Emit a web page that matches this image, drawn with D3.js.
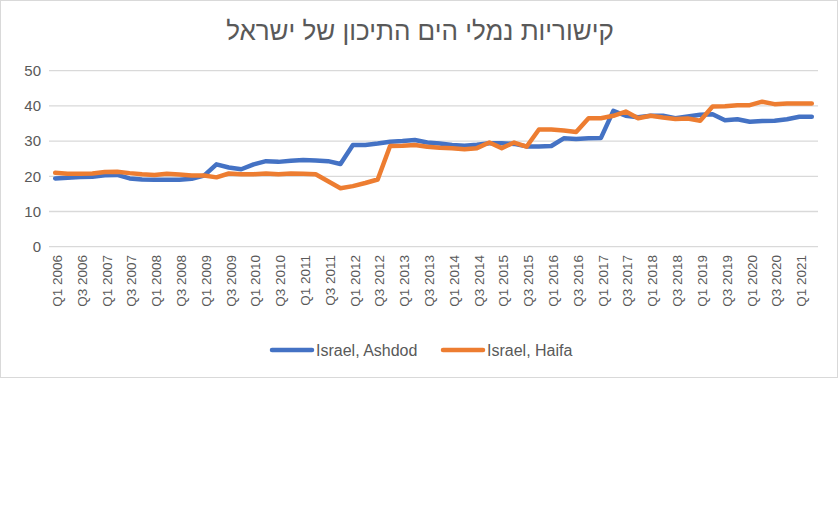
<!DOCTYPE html>
<html>
<head>
<meta charset="utf-8">
<script src="https://cdn.jsdelivr.net/npm/d3@7"></script>
<style>
  body { margin: 0; background: #fff; }
  svg { display: block; font-family: "Liberation Sans", Arial, sans-serif; }
</style>
</head>
<body>
<div id="chart"></div>
<script>
const chartTitle = "קישוריות נמלי הים התיכון של ישראל";
const years = d3.range(2006, 2022);
const quarters = years.flatMap((y) => ["Q1", "Q2", "Q3", "Q4"].map((q) => `${q} ${y}`)).slice(0, 62);
const yTicks = [0, 10, 20, 30, 40, 50];

const ashdod = [
  19.4, 19.6, 19.8, 19.9, 20.3, 20.4, 19.4, 19.1, 19.0, 19.0, 19.0, 19.3,
  20.2, 23.4, 22.5, 22.0, 23.4, 24.3, 24.1, 24.4, 24.6, 24.5, 24.3, 23.5,
  28.9, 28.9, 29.3, 29.8, 30.0, 30.3, 29.6, 29.3, 28.9, 28.7, 29.0, 29.4,
  29.4, 29.2, 28.5, 28.5, 28.6, 30.8, 30.6, 30.8, 30.9, 38.6, 37.2, 36.8,
  37.2, 37.2, 36.5, 37.0, 37.5, 37.6, 35.9, 36.2, 35.5, 35.7, 35.8, 36.2,
  36.9, 36.9
];
const haifa = [
  21.0, 20.7, 20.7, 20.8, 21.2, 21.3, 20.9, 20.6, 20.4, 20.7, 20.5, 20.2,
  20.2, 19.7, 20.8, 20.6, 20.6, 20.8, 20.6, 20.8, 20.7, 20.6, 18.6, 16.6,
  17.2, 18.1, 19.1, 28.6, 28.7, 28.9, 28.4, 28.1, 28.0, 27.7, 28.0, 29.6,
  28.0, 29.6, 28.4, 33.3, 33.3, 33.0, 32.6, 36.5, 36.5, 37.2, 38.4, 36.5,
  37.2, 36.7, 36.3, 36.4, 35.8, 39.8, 39.9, 40.2, 40.2, 41.2, 40.5, 40.7,
  40.7, 40.7
];

const series = [
  { name: "Israel, Ashdod", values: ashdod, color: "#4472C4" },
  { name: "Israel, Haifa", values: haifa, color: "#ED7D31" },
];

const width = 840;
const height = 516;
const textColor = "#595959";

const svg = d3
  .select("#chart")
  .append("svg")
  .attr("width", width)
  .attr("height", height);

// chart area frame
svg
  .append("rect")
  .attr("x", 0.5)
  .attr("y", 0.5)
  .attr("width", 837)
  .attr("height", 377)
  .attr("fill", "#fff")
  .attr("stroke", "#D9D9D9");

const x = d3.scaleBand().domain(quarters).range([49, 818]);
const y = d3.scaleLinear().domain([0, 50]).range([246.7, 70.7]);

svg
  .append("text")
  .attr("x", 420)
  .attr("y", 40)
  .attr("text-anchor", "middle")
  .attr("fill", textColor)
  .style("font-size", "26px")
  .text(chartTitle);

// gridlines
svg
  .append("g")
  .selectAll("line")
  .data(yTicks)
  .join("line")
  .attr("x1", 49)
  .attr("x2", 818)
  .attr("y1", (d) => y(d))
  .attr("y2", (d) => y(d))
  .attr("stroke", "#D9D9D9")
  .attr("stroke-width", 1.3);

const yAxis = svg
  .append("g")
  .attr("transform", "translate(41,0)")
  .call(d3.axisLeft(y).tickValues(yTicks).tickSize(0).tickPadding(0));
yAxis.select(".domain").remove();
yAxis
  .selectAll("text")
  .attr("fill", textColor)
  .style("font-size", "15px")
  .style("font-family", "'Liberation Sans', Arial, sans-serif");

const xAxis = svg
  .append("g")
  .attr("transform", "translate(0,255)")
  .call(
    d3
      .axisBottom(x)
      .tickValues(quarters.filter((d, i) => i % 2 === 0))
      .tickSize(0)
      .tickPadding(0),
  );
xAxis.select(".domain").remove();
xAxis
  .selectAll("text")
  .attr("fill", textColor)
  .style("font-size", "13.5px")
  .style("font-family", "'Liberation Sans', Arial, sans-serif")
  .attr("text-anchor", "end")
  .attr("transform", "rotate(-90)")
  .attr("x", 0)
  .attr("y", 2)
  .attr("dy", "0.35em");

const line = d3
  .line()
  .x((d, i) => x(quarters[i]) + x.bandwidth() / 2)
  .y((d) => y(d));

svg
  .append("g")
  .selectAll("path")
  .data(series)
  .join("path")
  .attr("fill", "none")
  .attr("stroke", (d) => d.color)
  .attr("stroke-width", 4.5)
  .attr("stroke-linejoin", "round")
  .attr("stroke-linecap", "round")
  .attr("d", (d) => line(d.values));

// legend
const legendX = [272, 443];
const legend = svg
  .append("g")
  .selectAll("g")
  .data(series)
  .join("g")
  .attr("transform", (d, i) => `translate(${legendX[i]},350)`);

legend
  .append("line")
  .attr("x1", 0)
  .attr("x2", 40)
  .attr("stroke", (d) => d.color)
  .attr("stroke-width", 4.5)
  .attr("stroke-linecap", "round");

legend
  .append("text")
  .attr("x", 44)
  .attr("dy", "0.35em")
  .attr("fill", textColor)
  .style("font-size", "16px")
  .text((d) => d.name);
</script>
</body>
</html>
